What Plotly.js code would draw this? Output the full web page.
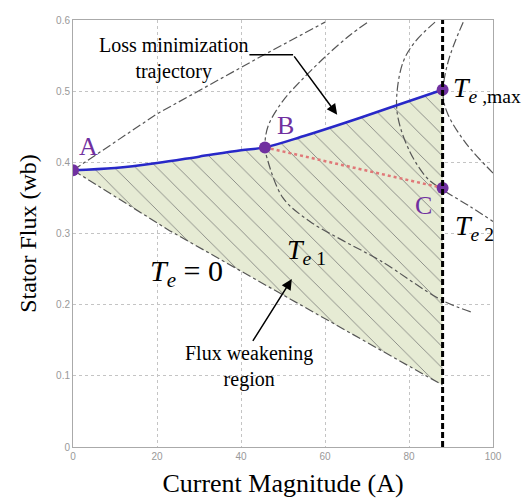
<!DOCTYPE html>
<html><head><meta charset="utf-8">
<script src="https://cdn.plot.ly/plotly-3.0.1.min.js"></script>
<style>html,body{margin:0;padding:0;background:#fff}#plot{width:523px;height:500px}</style>
</head><body><div id="plot"></div>
<script>
// Loss minimization trajectory (A -> B -> Te,max)
const lossX = [0, 10, 20, 30, 40, 45.7, 55, 65, 75, 88];
const lossY = [0.389, 0.392, 0.399, 0.408, 0.417, 0.421, 0.437, 0.456, 0.476, 0.502];
// Te = 0 lower boundary
const te0LowX = [0, 23, 52, 88];
const te0LowY = [0.389, 0.304, 0.207, 0.087];
// Te = 0 upper branch
const te0UpX = [0, 20, 44.5, 60];
const te0UpY = [0.389, 0.468, 0.548, 0.597];
// Te1 contour
const te1X = [70.0, 66.0, 60.0, 54.0, 49.8, 46.4, 45.7, 46.2, 50.0, 56.4, 64.3, 73.1, 87.9, 95.2];
const te1Y = [0.596, 0.579, 0.548, 0.513, 0.485, 0.450, 0.421, 0.406, 0.350, 0.317, 0.290, 0.262, 0.206, 0.189];
// Te2 contour (through C)
const te2X = [86.2, 81.4, 78.6, 77.1, 77.4, 80.2, 84.3, 87.9, 94.5, 100];
const te2Y = [0.597, 0.569, 0.541, 0.495, 0.462, 0.415, 0.378, 0.362, 0.338, 0.317];
// Te,max contour
const temaxX = [92.9, 89.3, 88.1, 89.3, 93.8, 100];
const temaxY = [0.597, 0.541, 0.495, 0.467, 0.425, 0.385];
// Current limit
const iMax = 88;
// Key points A, B, Te,max, C
const ptX = [0, 45.7, 88, 88];
const ptY = [0.389, 0.421, 0.502, 0.364];
const ptLabels = ['A', 'B', '', 'C'];
// Ticks
const xTicks = [0, 20, 40, 60, 80, 100];
const yTicks = [0, 0.1, 0.2, 0.3, 0.4, 0.5, 0.6];
const yTickText = ['0', '0.1', '0.2', '0.3', '0.4', '0.5', '0.6'];

// Shaded flux weakening region polygon, built from the arrays above
const regX = lossX.concat([iMax]).concat(te0LowX.slice().reverse());
const regY = lossY.concat([te0LowY[te0LowY.length-1]]).concat(te0LowY.slice().reverse());

const dd = {color: '#555', width: 1.2, dash: 'dashdot'};
const traces = [
  {x: regX, y: regY, mode: 'none', fill: 'toself', fillcolor: '#e6ebd4',
   fillpattern: {shape: '\\', fgcolor: '#707070', bgcolor: '#e6ebd4', size: 15, solidity: 0.05},
   hoverinfo: 'skip', showlegend: false},
  {x: te0LowX, y: te0LowY, mode: 'lines', line: dd, showlegend: false},
  {x: te0UpX, y: te0UpY, mode: 'lines', line: dd, showlegend: false},
  {x: te1X, y: te1Y, mode: 'lines', line: Object.assign({shape: 'spline'}, dd), showlegend: false},
  {x: te2X, y: te2Y, mode: 'lines', line: Object.assign({shape: 'spline'}, dd), showlegend: false},
  {x: temaxX, y: temaxY, mode: 'lines', line: Object.assign({shape: 'spline'}, dd), showlegend: false},
  {x: [ptX[1], ptX[3]], y: [ptY[1], ptY[3]], mode: 'lines', line: {color: '#e07878', width: 2.5, dash: 'dot'}, showlegend: false},
  {x: lossX, y: lossY, mode: 'lines', line: {color: '#2828c8', width: 2.5, shape: 'spline'}, showlegend: false},
  {x: ptX, y: ptY, mode: 'markers', marker: {color: '#7030a0', size: 12}, showlegend: false}
];

const serif = '"Liberation Serif", "Times New Roman", serif';
const lab = (x, y, t, size, extra) => Object.assign({x, y, xref: 'x', yref: 'y', text: t, showarrow: false,
  font: {family: serif, size: size, color: '#000'}}, extra || {});

const annotations = [
  lab(ptX[0], ptY[0], ptLabels[0], 26, {xshift: 15, yshift: 24, font: {family: serif, size: 26, color: '#7030a0'}}),
  lab(ptX[1], ptY[1], ptLabels[1], 26, {xshift: 21, yshift: 22, font: {family: serif, size: 26, color: '#7030a0'}}),
  lab(ptX[3], ptY[3], ptLabels[3], 26, {xshift: -19, yshift: -18, font: {family: serif, size: 26, color: '#7030a0'}}),
  lab(ptX[2], ptY[2], '<i>T</i><sub><i>e</i> ,max</sub>', 28, {xanchor: 'left', xshift: 8, yshift: 0}),
  lab(ptX[3], ptY[3], '<i>T</i><sub><i>e</i> 2</sub>', 28, {xanchor: 'left', xshift: 10, yshift: -40}),
  lab(55.5, 0.275, '<i>T</i><sub><i>e</i> 1</sub>', 28, {}),
  lab(27.0, 0.245, '<i>T</i><sub><i>e</i></sub> = 0', 30, {}),
  lab(24.0, 0.546, 'Loss minimization<br>trajectory', 20, {}),
  lab(41.8, 0.113, 'Flux weakening<br>region', 20, {}),
  {x: 62.9, y: 0.467, ax: 52.4, ay: 0.551, xref: 'x', yref: 'y', axref: 'x', ayref: 'y', text: '',
   showarrow: true, arrowhead: 2, arrowsize: 1.4, arrowwidth: 1.5, arrowcolor: '#000'},
  {x: 52.1, y: 0.236, ax: 42.6, ay: 0.147, xref: 'x', yref: 'y', axref: 'x', ayref: 'y', text: '',
   showarrow: true, arrowhead: 2, arrowsize: 1.4, arrowwidth: 1.5, arrowcolor: '#000'}
];

const shapes = [
  {type: 'line', xref: 'x', yref: 'y', x0: iMax, x1: iMax, y0: 0, y1: 0.6,
   line: {color: '#000', width: 3, dash: '6px,3px'}},
  {type: 'line', xref: 'x', yref: 'y', x0: 42, x1: 52.4, y0: 0.551, y1: 0.551,
   line: {color: '#000', width: 1.5}}
];

const tickFont = {family: '"Liberation Sans", Arial, sans-serif', size: 10, color: '#999'};
const layout = {
  width: 523, height: 500,
  margin: {l: 73, r: 30, t: 20, b: 53},
  paper_bgcolor: '#fff', plot_bgcolor: '#fff',
  font: {family: serif},
  xaxis: {range: [0, 100], tickvals: xTicks, ticktext: xTicks.map(String), showgrid: true,
    gridcolor: '#c4c4c4', griddash: 'dot', zeroline: false, showline: true, mirror: true,
    linecolor: '#aaa', linewidth: 1, ticks: '', tickfont: tickFont,
    title: {text: 'Current Magnitude (A)', font: {family: serif, size: 26, color: '#000'}, standoff: 12}},
  yaxis: {range: [0, 0.6], tickvals: yTicks, ticktext: yTickText, showgrid: true,
    gridcolor: '#c4c4c4', griddash: 'dot', zeroline: false, showline: true, mirror: true,
    linecolor: '#aaa', linewidth: 1, ticks: '', tickfont: tickFont,
    title: {text: 'Stator Flux (wb)', font: {family: serif, size: 24, color: '#000'}, standoff: 12}},
  annotations, shapes, showlegend: false
};
Plotly.newPlot('plot', traces, layout, {displayModeBar: false, staticPlot: true});
</script></body></html>
